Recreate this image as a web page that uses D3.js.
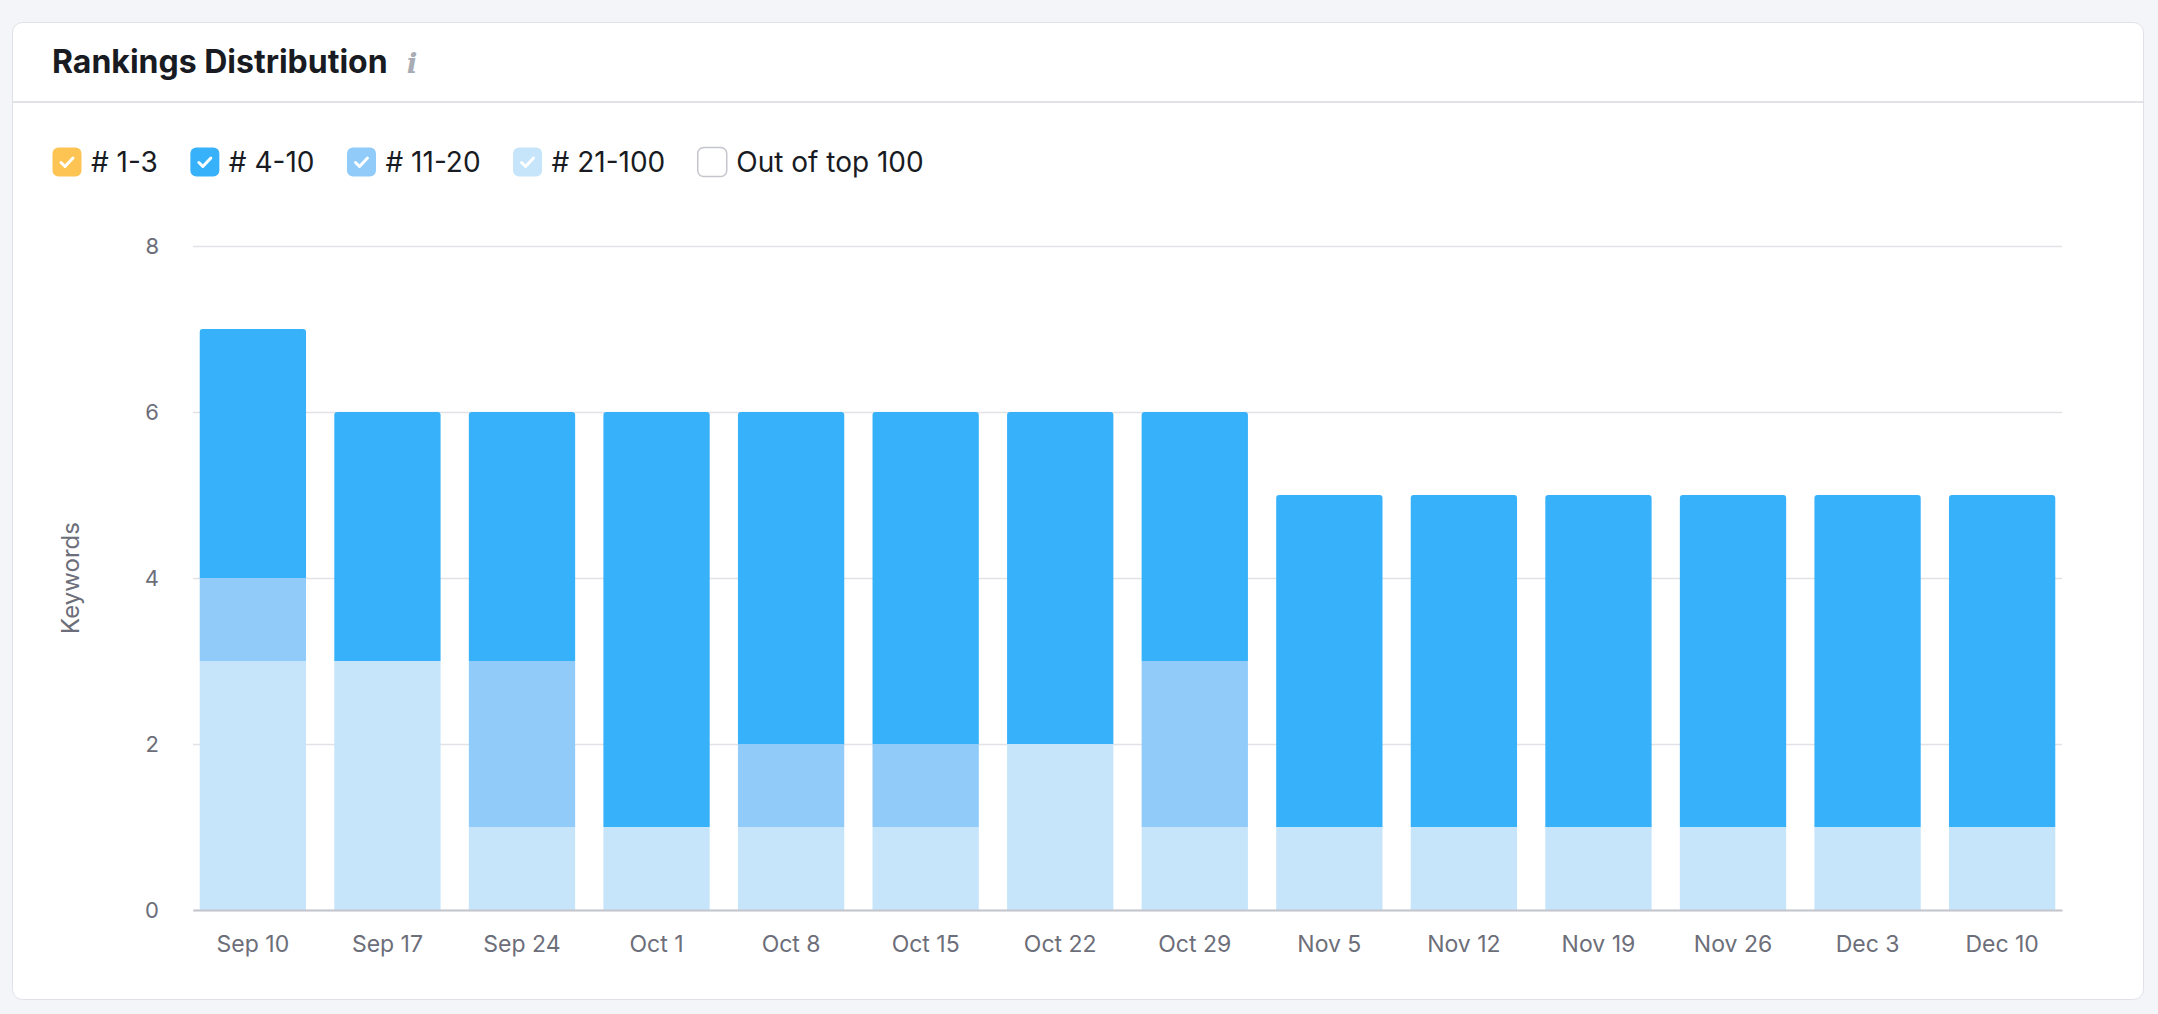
<!DOCTYPE html>
<html>
<head>
<meta charset="utf-8">
<script src="https://cdn.jsdelivr.net/npm/d3@7"></script>
<style>
  html, body { margin: 0; padding: 0; background: #f4f5f9; }
  svg { display: block; font-family: Inter, "Noto Sans", sans-serif; }
</style>
</head>
<body>
<svg id="chart" width="2158" height="1014"></svg>
<script>
// weekly snapshots
const weeks = ["Sep 10", "Sep 17", "Sep 24", "Oct 1", "Oct 8", "Oct 15", "Oct 22",
               "Oct 29", "Nov 5", "Nov 12", "Nov 19", "Nov 26", "Dec 3", "Dec 10"];

// keywords per ranking bucket
const top3   = [0, 0, 0, 0, 0, 0, 0, 0, 0, 0, 0, 0, 0, 0];
const top10  = [3, 3, 3, 5, 4, 4, 4, 3, 4, 4, 4, 4, 4, 4];
const top20  = [1, 0, 2, 0, 1, 1, 0, 2, 0, 0, 0, 0, 0, 0];
const top100 = [3, 3, 1, 1, 1, 1, 2, 1, 1, 1, 1, 1, 1, 1];

const yTicks = [0, 2, 4, 6, 8];

const legendItems = [
    { label: "# 1-3",          color: "#fdc453", checked: true },
    { label: "# 4-10",         color: "#37b1f9", checked: true },
    { label: "# 11-20",        color: "#90cbfa", checked: true },
    { label: "# 21-100",       color: "#c6e5fb", checked: true },
    { label: "Out of top 100", color: "#ffffff", checked: false }
];

const keys = ["top100", "top20", "top10", "top3"];
const colors = { top3: "#fdc453", top10: "#37b1f9", top20: "#90cbfa", top100: "#c6e5fb" };

const rows = weeks.map((w, i) => ({
    week: w, top3: top3[i], top10: top10[i], top20: top20[i], top100: top100[i]
}));

const svg = d3.select("#chart");

// card
svg.append("rect")
    .attr("x", 12.5).attr("y", 22.5)
    .attr("width", 2131).attr("height", 977)
    .attr("rx", 10)
    .attr("fill", "#fff")
    .attr("stroke", "#e1e2e8");

svg.append("line")
    .attr("x1", 13).attr("x2", 2143)
    .attr("y1", 102).attr("y2", 102)
    .attr("stroke", "#e1e2e8").attr("stroke-width", 2);

// header
const title = svg.append("text")
    .attr("x", 52).attr("y", 73)
    .attr("font-size", 32).attr("font-weight", 700)
    .attr("fill", "#191b23")
    .text("Rankings Distribution");

svg.append("text")
    .attr("x", 52 + title.node().getComputedTextLength() + 19).attr("y", 73)
    .attr("font-size", 28).attr("font-style", "italic").attr("font-weight", 700)
    .attr("font-family", "'DejaVu Serif', serif")
    .attr("fill", "#a9abb5")
    .text("i");

// legend
let lx = 52;
const ly = 162;
legendItems.forEach(item => {
    const g = svg.append("g").attr("transform", `translate(${lx},${ly})`);
    g.append("rect")
        .attr("x", 0.5).attr("y", -14.5)
        .attr("width", 29).attr("height", 29)
        .attr("rx", 6)
        .attr("fill", item.color)
        .attr("stroke", item.checked ? item.color : "#c4c5cd")
        .attr("stroke-width", item.checked ? 0 : 1.5);
    if (item.checked) {
        g.append("path")
            .attr("d", "M9,0.5 L13,4.5 L21,-4")
            .attr("fill", "none")
            .attr("stroke", "#fff")
            .attr("stroke-width", 3)
            .attr("stroke-linecap", "round")
            .attr("stroke-linejoin", "round");
    }
    const t = g.append("text")
        .attr("x", 39).attr("y", 0)
        .attr("dy", "0.35em")
        .attr("font-size", 28)
        .attr("fill", "#191b23")
        .text(item.label);
    lx += 39 + t.node().getComputedTextLength() + 32;
});

// scales
const x = d3.scaleBand()
    .domain(weeks)
    .range([193, 2062])
    .paddingInner(0.21)
    .paddingOuter(0.05);

const y = d3.scaleLinear()
    .domain([0, 8])
    .range([910, 246]);

// y axis + grid
const yAxis = svg.append("g")
    .attr("transform", "translate(193,0)")
    .call(d3.axisLeft(y).tickValues(yTicks).tickSize(-(2062 - 193)).tickPadding(34));
yAxis.select(".domain").remove();
yAxis.selectAll(".tick line").attr("stroke", "#e1e2e8").attr("stroke-width", 1.5);
yAxis.selectAll(".tick text")
    .attr("font-size", 22).attr("fill", "#6c6e79")
    .attr("font-family", "Inter, sans-serif");

svg.append("text")
    .attr("transform", `translate(71,${(y(0) + y(8)) / 2}) rotate(-90)`)
    .attr("text-anchor", "middle")
    .attr("dy", "0.35em")
    .attr("font-size", 24)
    .attr("fill", "#6c6e79")
    .text("Keywords");

// stacked bars
const series = d3.stack().keys(keys)(rows);

const topKey = rows.map(r => {
    let k = null;
    keys.forEach(key => { if (r[key] > 0) k = key; });
    return k;
});

function topRounded(x0, y0, w, h, r) {
    return `M${x0},${y0 + h} V${y0 + r} Q${x0},${y0} ${x0 + r},${y0} H${x0 + w - r} Q${x0 + w},${y0} ${x0 + w},${y0 + r} V${y0 + h} Z`;
}

series.forEach(s => {
    svg.append("g")
        .attr("fill", colors[s.key])
        .selectAll("path")
        .data(s.filter(d => d[1] > d[0]))
        .join("path")
        .attr("d", d => {
            const bx = x(d.data.week), bw = x.bandwidth();
            const by = y(d[1]), bh = y(d[0]) - y(d[1]);
            const r = topKey[weeks.indexOf(d.data.week)] === s.key ? 3 : 0;
            return topRounded(bx, by, bw, bh, r);
        });
});

// x axis
const xAxis = svg.append("g")
    .attr("transform", `translate(0,${y(0)})`)
    .call(d3.axisBottom(x).tickSize(0).tickPadding(26));
xAxis.select(".domain").attr("stroke", "#c4c5cd").attr("stroke-width", 2);
xAxis.selectAll(".tick text")
    .attr("font-size", 23).attr("fill", "#6c6e79")
    .attr("font-family", "Inter, sans-serif");
</script>
</body>
</html>
